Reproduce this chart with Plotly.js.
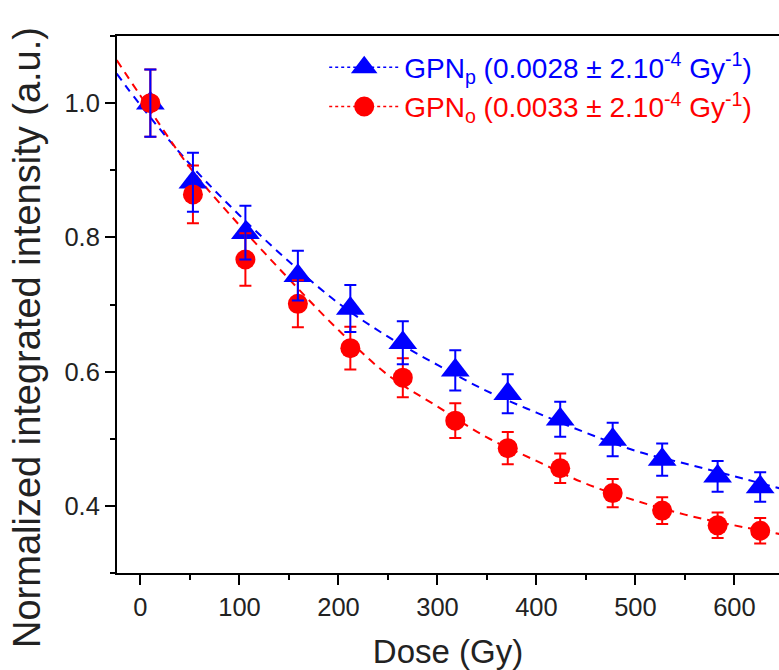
<!DOCTYPE html>
<html>
<head>
<meta charset="utf-8">
<script src="https://cdn.plot.ly/plotly-3.0.1.min.js"></script>
<style>html,body{margin:0;padding:0;background:#fff;}#chart{width:779px;height:670px;}</style>
</head>
<body>
<div id="chart"></div>
<script>
// Measured data
const dose = [10, 53, 106, 159, 212, 265, 318, 371, 424, 477, 527, 583, 626];
const gpnP = [1.000, 0.882, 0.807, 0.743, 0.694, 0.643, 0.602, 0.567, 0.529, 0.499, 0.469, 0.444, 0.428];
const gpnPErr = [0.050, 0.044, 0.040, 0.037, 0.035, 0.032, 0.030, 0.029, 0.026, 0.025, 0.024, 0.023, 0.022];
const gpnO = [1.000, 0.864, 0.767, 0.701, 0.635, 0.591, 0.527, 0.486, 0.456, 0.419, 0.393, 0.371, 0.363];
const gpnOErr = [0.050, 0.043, 0.039, 0.035, 0.032, 0.029, 0.026, 0.024, 0.022, 0.021, 0.020, 0.019, 0.019];

// Fit curves
const fitDose = [-24, 0, 50, 100, 150, 200, 250, 300, 350, 400, 450, 500, 550, 600, 646];
const fitP = [1.044, 0.997, 0.909, 0.833, 0.764, 0.702, 0.652, 0.610, 0.571, 0.539, 0.509, 0.482, 0.463, 0.444, 0.426];
const fitO = [1.064, 1.011, 0.904, 0.818, 0.738, 0.662, 0.595, 0.548, 0.502, 0.467, 0.433, 0.408, 0.387, 0.371, 0.358];

const nameP = '<span style="color:#0000ff">GPN<sub>p</sub> (0.0028 ± 2.10<sup>-4</sup> Gy<sup>-1</sup>)</span>';
const nameO = '<span style="color:#ff0000">GPN<sub>o</sub> (0.0033 ± 2.10<sup>-4</sup> Gy<sup>-1</sup>)</span>';
const xTitle = 'Dose (Gy)';
const yTitle = 'Normalized integrated intensity (a.u.)';

const BLUE = '#0000ff', RED = '#ff0000';
const FONT = 'Arial, "Liberation Sans", sans-serif';

const traces = [
  {x: fitDose, y: fitP, mode: 'lines', line: {color: BLUE, width: 2, dash: '8px,6px', shape: 'spline'}, showlegend: false, hoverinfo: 'skip'},
  {x: fitDose, y: fitO, mode: 'lines', line: {color: RED, width: 2, dash: '8px,6px', shape: 'spline'}, showlegend: false, hoverinfo: 'skip'},
  {x: dose, y: gpnP, mode: 'markers', marker: {symbol: 'triangle-up', size: 25, color: BLUE}, showlegend: false},
  {x: dose, y: gpnO, mode: 'markers', marker: {symbol: 'circle', size: 20, color: RED}, showlegend: false},
  {x: dose, y: gpnO, mode: 'markers', marker: {size: 1, color: 'rgba(0,0,0,0)'}, showlegend: false,
   error_y: {type: 'data', array: gpnOErr, visible: true, color: RED, thickness: 2, width: 6}},
  {x: dose, y: gpnP, mode: 'markers', marker: {size: 1, color: 'rgba(0,0,0,0)'}, showlegend: false,
   error_y: {type: 'data', array: gpnPErr, visible: true, color: BLUE, thickness: 2, width: 6}},
  {x: [null], y: [null], mode: 'lines+markers', name: nameP, legendgroup: 'p',
   line: {color: BLUE, width: 1.5, dash: '3px,3px'},
   marker: {symbol: 'triangle-up', size: 16, color: BLUE, line: {color: BLUE, width: 4}}},
  {x: [null], y: [null], mode: 'lines+markers', name: nameO, legendgroup: 'o',
   line: {color: RED, width: 1.5, dash: '3px,3px'},
   marker: {symbol: 'circle', size: 16, color: RED, line: {color: RED, width: 4}}}
];

const layout = {
  width: 779, height: 670,
  margin: {l: 117, r: 0, t: 36, b: 97},
  paper_bgcolor: '#ffffff', plot_bgcolor: '#ffffff',
  font: {family: FONT, color: '#222222'},
  showlegend: true,
  legend: {x: 0.313, y: 0.988, xanchor: 'left', yanchor: 'top', bgcolor: 'rgba(0,0,0,0)',
           font: {family: FONT, size: 28}, itemwidth: 70, traceorder: 'normal', tracegroupgap: 6},
  xaxis: {
    range: [-23.7, 645], showgrid: false, zeroline: false,
    showline: true, linecolor: '#000', linewidth: 2, mirror: true,
    ticks: 'outside', ticklen: 10, tickwidth: 2, tickcolor: '#000',
    tickmode: 'linear', tick0: 0, dtick: 100,
    minor: {dtick: 50, ticklen: 5, tickwidth: 2, tickcolor: '#000', ticks: 'outside'},
    tickfont: {family: FONT, size: 25.5, color: '#222'},
    title: {text: xTitle, font: {family: FONT, size: 33, color: '#222'}, standoff: 23}
  },
  yaxis: {
    range: [0.3, 1.1], showgrid: false, zeroline: false,
    showline: true, linecolor: '#000', linewidth: 2, mirror: true,
    ticks: 'outside', ticklen: 10, tickwidth: 2, tickcolor: '#000',
    tickmode: 'linear', tick0: 0, dtick: 0.2, tickformat: '.1f',
    minor: {dtick: 0.1, ticklen: 5, tickwidth: 2, tickcolor: '#000', ticks: 'outside'},
    tickfont: {family: FONT, size: 25.5, color: '#222'}
  },
  annotations: [{
    text: yTitle, xref: 'paper', yref: 'paper', x: 0, y: 0.4376, xanchor: 'center', yanchor: 'middle',
    xshift: -90, textangle: -90, showarrow: false, font: {family: FONT, size: 38, color: '#222'}
  }]
};

Plotly.newPlot('chart', traces, layout, {displayModeBar: false, staticPlot: true});
</script>
</body>
</html>
